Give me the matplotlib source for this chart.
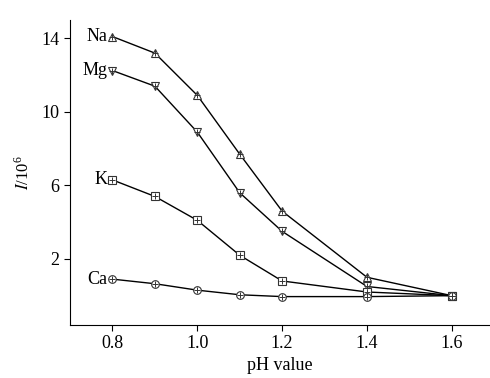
import matplotlib
matplotlib.use("Agg")
import matplotlib.pyplot as plt

plt.rcParams['font.family'] = ['Liberation Serif', 'DejaVu Serif']
plt.rcParams['mathtext.fontset'] = 'stix'

ph = [0.8, 0.9, 1.0, 1.1, 1.2, 1.4, 1.6]
na = [14.1, 13.2, 10.9, 7.7, 4.6, 1.0, 0.0]
mg = [12.25, 11.4, 8.9, 5.6, 3.5, 0.5, 0.0]
k = [6.3, 5.4, 4.1, 2.2, 0.8, 0.2, 0.0]
ca = [0.9, 0.65, 0.3, 0.05, -0.05, -0.05, 0.0]
names = ['Na', 'Mg', 'K', 'Ca']
markers = ['^', 'v', 's', 'o']

fig = plt.figure(figsize=(4.9, 3.78), dpi=100)
ax = fig.add_axes([0.143, 0.14, 0.857, 0.807])

for vals, name, m in zip([na, mg, k, ca], names, markers):
    ax.plot(ph, vals, color='black', lw=1.0, zorder=2)
    ax.plot(ph, vals, ls='none', marker=m, ms=5.5, mfc='white', mec='#333333', mew=0.8, zorder=3)
    ax.plot(ph, vals, ls='none', marker='+', ms=5, mec='#333333', mew=0.7, zorder=4)
    ax.text(ph[0] - 0.012, vals[0], name, ha='right', va='center', fontsize=13)

ax.set_xlim(0.7, 1.69)
ax.set_ylim(-1.6, 15.0)
ax.set_xticks([0.8, 1.0, 1.2, 1.4, 1.6])
ax.set_xticklabels(['0.8', '1.0', '1.2', '1.4', '1.6'])
ax.set_yticks([2, 6, 10, 14])
ax.tick_params(direction='out', length=4, width=0.8, labelsize=13)
for s in ['top', 'right']:
    ax.spines[s].set_visible(False)
ax.set_xlabel('pH value', fontsize=13, labelpad=3)
ax.set_ylabel(r'$I$/10$^{\mathregular{6}}$', fontsize=12, labelpad=6)

fig.savefig('out.png', dpi=100)
